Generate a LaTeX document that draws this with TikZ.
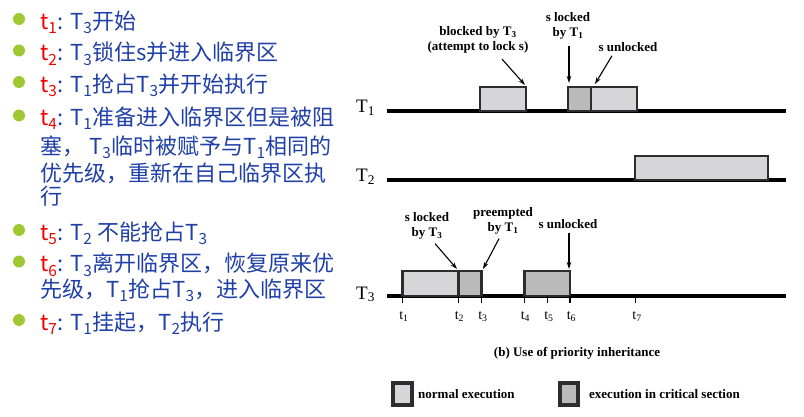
\documentclass[tikz,border=0pt]{standalone}
\usepackage{fontspec}
\setmainfont{Noto Sans CJK SC}
\newfontfamily\tms{Liberation Serif}
\usetikzlibrary{arrows.meta}

\definecolor{itemblue}{RGB}{32,64,168}
\definecolor{tred}{RGB}{240,0,0}
\definecolor{bulletc}{RGB}{160,200,50}
\definecolor{normfill}{RGB}{214,214,216}
\definecolor{critfill}{RGB}{186,186,186}
\definecolor{boxline}{RGB}{45,45,45}

\newcommand{\tlab}[1]{\textcolor{tred}{t\textsubscript{#1}}}
\newcommand{\tsk}[1]{T\textsubscript{#1}}

\begin{document}
\begin{tikzpicture}[x=1pt, y=-1pt,
    item/.style={anchor=base west, inner sep=0, text=itemblue, font=\fontsize{22}{27}\selectfont},
    tline/.style={line width=3.2pt, black},
    norm/.style={draw=boxline, line width=2.6pt, fill=normfill},
    crit/.style={draw=boxline, line width=2.6pt, fill=critfill},
    ann/.style={inner sep=0, align=center, font=\tms\bfseries\fontsize{13}{15}\selectfont},
    tsklab/.style={anchor=base west, inner sep=0, font=\tms\fontsize{19}{22}\selectfont},
    ticklab/.style={anchor=base, inner sep=0, font=\tms\fontsize{14}{16}\selectfont},
    tick/.style={line width=1.4pt},
    arr/.style={-{Stealth[length=7pt,width=4.5pt]}, line width=1.1pt}]
        \useasboundingbox (0,0) rectangle (804,417);

        % list of events
        \fill[bulletc] (19,19) circle (6pt);
        \fill[bulletc] (19,50.5) circle (6pt);
        \fill[bulletc] (19,82) circle (6pt);
        \fill[bulletc] (19,115.5) circle (6pt);
        \fill[bulletc] (19,230) circle (6pt);
        \fill[bulletc] (19,261.5) circle (6pt);
        \fill[bulletc] (19,320) circle (6pt);
        \node[item] (e1) at (40,29.5) {\tlab{1}: \tsk{3}开始};
        \node[item] (e2) at (40,61) {\tlab{2}: \tsk{3}锁住s并进入临界区};
        \node[item] (e3) at (40,92.5) {\tlab{3}: \tsk{1}抢占\tsk{3}并开始执行};
        \node[item] (e4a) at (40,126) {\tlab{4}: \tsk{1}准备进入临界区但是被阻};
        \node[item] (e4b) at (40,154.5) {塞， \tsk{3}临时被赋予与\tsk{1}相同的};
        \node[item] (e4c) at (40,181.5) {优先级，重新在自己临界区执};
        \node[item] (e4d) at (40,204.5) {行};
        \node[item] (e5) at (40,240.5) {\tlab{5}: \tsk{2} 不能抢占\tsk{3}};
        \node[item] (e6a) at (40,272) {\tlab{6}: \tsk{3}离开临界区，恢复原来优};
        \node[item] (e6b) at (40,297.5) {先级，\tsk{1}抢占\tsk{3}，进入临界区};
        \node[item] (e7) at (40,330.5) {\tlab{7}: \tsk{1}挂起，\tsk{2}执行};

        % time lines
        \node[tsklab] (T1) at (356,112.5) {\tsk{1}};
        \node[tsklab] (T2) at (356,182) {\tsk{2}};
        \node[tsklab] (T3) at (356,299) {\tsk{3}};
        \draw[tline] (387,111) -- (786,111);
        \draw[tline] (387,180) -- (786,180);
        \draw[tline] (387,296) -- (786,296);

        \draw[norm] (480,87) rectangle (526,111);
        \draw[crit] (568,87) rectangle (591,111);
        \draw[norm] (591,87) rectangle (637,111);
        \draw[norm] (635,156) rectangle (768,180);
        \draw[norm] (402.7,271) rectangle (458.3,296);
        \draw[crit] (458.3,271) rectangle (481.7,296);
        \draw[crit] (524.3,271) rectangle (570,296);

        % ticks
        \draw[tick] (402.7,296) -- (402.7,303);
        \draw[tick] (458.3,296) -- (458.3,303);
        \draw[tick] (481.7,296) -- (481.7,303);
        \draw[tick] (524.3,296) -- (524.3,303);
        \draw[tick] (547.7,296) -- (547.7,303);
        \draw[tick] (570,296) -- (570,303);
        \draw[tick] (635.7,296) -- (635.7,303);
        \node[ticklab] (t1) at (404,319) {t\textsubscript{1}};
        \node[ticklab] (t2) at (459.5,319) {t\textsubscript{2}};
        \node[ticklab] (t3) at (483,319) {t\textsubscript{3}};
        \node[ticklab] (t4) at (525.5,319) {t\textsubscript{4}};
        \node[ticklab] (t5) at (549,319) {t\textsubscript{5}};
        \node[ticklab] (t6) at (571.5,319) {t\textsubscript{6}};
        \node[ticklab] (t7) at (637,319) {t\textsubscript{7}};

        % annotations
        \node[ann] (blk) at (478,39.5) {blocked by T\textsubscript{3}\\(attempt to lock s)};
        \node[ann] (lk1) at (568,26) {s locked\\by T\textsubscript{1}};
        \node[ann] (ul1) at (628,47) {s unlocked};
        \node[ann] (lk3) at (427,226) {s locked\\by T\textsubscript{3}};
        \node[ann] (pre) at (503,221) {preempted\\by T\textsubscript{1}};
        \node[ann] (ul3) at (568,224) {s unlocked};
        \coordinate (blkA) at (525,85);
        \coordinate (lk1A) at (569,83);
        \coordinate (ul1A) at (595,84);
        \coordinate (lk3A) at (457,269);
        \coordinate (preA) at (483,269);
        \coordinate (ul3A) at (569,269);
        \draw[arr] ([xshift=24pt,yshift=-6pt]blk.south) -- (blkA);
        \draw[arr] ([xshift=1pt,yshift=-6pt]lk1.south) -- (lk1A);
        \draw[arr] ([xshift=-16pt,yshift=-4pt]ul1.south) -- (ul1A);
        \draw[arr] ([xshift=8pt,yshift=-4pt]lk3.south) -- (lk3A);
        \draw[arr] ([xshift=-4pt,yshift=-4pt]pre.south) -- (preA);
        \draw[arr] ([xshift=1pt,yshift=-4pt]ul3.south) -- (ul3A);

        % caption and legend
        \node[ann] (cap) at (577,353) {(b) Use of priority inheritance};
        \draw[norm, line width=3.6pt] (393,383) rectangle (412,405);
        \draw[crit, line width=3.6pt] (560,383) rectangle (578,405);
        \node[ann, anchor=west] (lgn) at (418,394) {normal execution};
        \node[ann, anchor=west] (lgc) at (589,394) {execution in critical section};
    \end{tikzpicture}
\end{document}
